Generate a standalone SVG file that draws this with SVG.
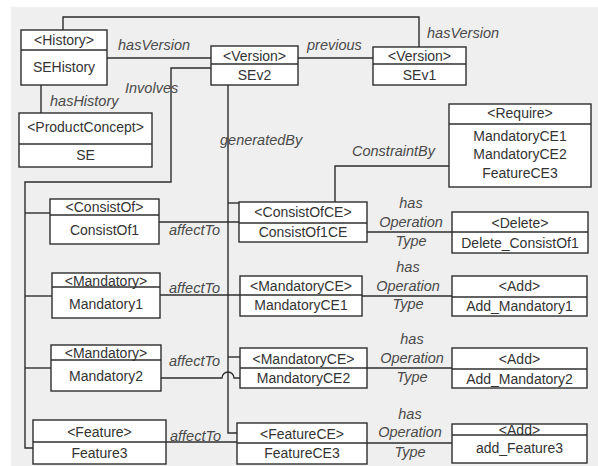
<svg xmlns="http://www.w3.org/2000/svg" width="598" height="466" viewBox="0 0 598 466">
  <style>
    .box { fill: #ffffff; stroke: #2e2e2e; stroke-width: 1.4; }
    .div { stroke: #2e2e2e; stroke-width: 1.4; }
    .t { font-family: "Liberation Sans", Arial, sans-serif; font-size: 14px; fill: #333333; text-anchor: middle; }
    .lbl { font-family: "Liberation Sans", Arial, sans-serif; font-size: 14.5px; font-style: italic; fill: #4a4a4a; }
    .mid { text-anchor: middle; }
    .edge { fill: none; stroke: #2e2e2e; stroke-width: 1.4; }
  </style>

  <!-- canvas -->
  <rect x="0" y="0" width="598" height="466" fill="#ffffff"/>
  <rect x="11" y="7" width="587" height="459" fill="#efefef"/>

  <!-- connectors -->
  <g id="connectors">
    <path class="edge" d="M63,30 V17 H419 V47"/>
    <path class="edge" d="M107,58 H211"/>
    <path class="edge" d="M298,58 H373"/>
    <path class="edge" d="M41,85 V113"/>
    <path class="edge" d="M211,68 H171 V182 H25 V448 H33"/>
    <path class="edge" d="M25,213 H50"/>
    <path class="edge" d="M25,296 H52"/>
    <path class="edge" d="M25,368 H51"/>
    <path class="edge" d="M228,85 V433 H237"/>
    <path class="edge" d="M228,203 H239"/>
    <path class="edge" d="M228,357 H240"/>
    <path class="edge" d="M449,166 H335 V202"/>
    <path class="edge" d="M159,222 H239"/>
    <path class="edge" d="M160,295 H240"/>
    <path class="edge" d="M161,378 H222 A6,6 0 0 1 234,378 H240"/>
    <path class="edge" d="M166,442 H237"/>
    <path class="edge" d="M367,232 H452"/>
    <path class="edge" d="M362,296 H452"/>
    <path class="edge" d="M367,368 H452"/>
    <path class="edge" d="M367,443 H452"/>

    <text class="lbl" x="427" y="38">hasVersion</text>
    <text class="lbl" x="118" y="50">hasVersion</text>
    <text class="lbl" x="307" y="50">previous</text>
    <text class="lbl" x="50" y="106">hasHistory</text>
    <text class="lbl" x="125" y="93">Involves</text>
    <text class="lbl" x="220" y="145">generatedBy</text>
    <text class="lbl" x="352" y="156">ConstraintBy</text>

    <text class="lbl" x="169" y="235">affectTo</text>
    <text class="lbl" x="169" y="293">affectTo</text>
    <text class="lbl" x="169" y="366">affectTo</text>
    <text class="lbl" x="170" y="441">affectTo</text>

    <text class="lbl mid" x="411" y="208">has</text>
    <text class="lbl mid" x="411" y="227">Operation</text>
    <text class="lbl mid" x="411" y="246">Type</text>
    <text class="lbl mid" x="408" y="272">has</text>
    <text class="lbl mid" x="408" y="291">Operation</text>
    <text class="lbl mid" x="408" y="309">Type</text>
    <text class="lbl mid" x="412" y="344">has</text>
    <text class="lbl mid" x="412" y="363">Operation</text>
    <text class="lbl mid" x="412" y="382">Type</text>
    <text class="lbl mid" x="410" y="419">has</text>
    <text class="lbl mid" x="410" y="437">Operation</text>
    <text class="lbl mid" x="410" y="457">Type</text>
  </g>

  <!-- nodes -->
  <g id="history">
    <rect class="box" x="21" y="30" width="86" height="55"/>
    <line class="div" x1="21" y1="50" x2="107" y2="50"/>
    <text class="t" x="64" y="45">&lt;History&gt;</text>
    <text class="t" x="64" y="72">SEHistory</text>
  </g>
  <g id="sev2">
    <rect class="box" x="211" y="46" width="87" height="39"/>
    <line class="div" x1="211" y1="64" x2="298" y2="64"/>
    <text class="t" x="254.5" y="61">&lt;Version&gt;</text>
    <text class="t" x="254.5" y="80">SEv2</text>
  </g>
  <g id="sev1">
    <rect class="box" x="373" y="47" width="93" height="38"/>
    <line class="div" x1="373" y1="64" x2="466" y2="64"/>
    <text class="t" x="419.5" y="61">&lt;Version&gt;</text>
    <text class="t" x="419.5" y="80">SEv1</text>
  </g>
  <g id="productconcept">
    <rect class="box" x="19" y="113" width="133" height="54"/>
    <line class="div" x1="19" y1="144" x2="152" y2="144"/>
    <text class="t" x="85.5" y="132">&lt;ProductConcept&gt;</text>
    <text class="t" x="85.5" y="160">SE</text>
  </g>
  <g id="require">
    <rect class="box" x="449" y="104" width="142" height="83"/>
    <line class="div" x1="449" y1="124" x2="591" y2="124"/>
    <text class="t" x="520" y="118">&lt;Require&gt;</text>
    <text class="t" x="520" y="141">MandatoryCE1</text>
    <text class="t" x="520" y="159">MandatoryCE2</text>
    <text class="t" x="520" y="178">FeatureCE3</text>
  </g>

  <g id="consistof1">
    <rect class="box" x="50" y="199" width="109" height="45"/>
    <line class="div" x1="50" y1="215" x2="159" y2="215"/>
    <text class="t" x="104.5" y="212">&lt;ConsistOf&gt;</text>
    <text class="t" x="104.5" y="235">ConsistOf1</text>
  </g>
  <g id="consistof1ce">
    <rect class="box" x="239" y="202" width="128" height="40"/>
    <line class="div" x1="239" y1="223" x2="367" y2="223"/>
    <text class="t" x="303" y="217">&lt;ConsistOfCE&gt;</text>
    <text class="t" x="303" y="237">ConsistOf1CE</text>
  </g>
  <g id="delete_consistof1">
    <rect class="box" x="452" y="212" width="136" height="41"/>
    <line class="div" x1="452" y1="232" x2="588" y2="232"/>
    <text class="t" x="520" y="228">&lt;Delete&gt;</text>
    <text class="t" x="520" y="248">Delete_ConsistOf1</text>
  </g>

  <g id="mandatory1">
    <rect class="box" x="52" y="273" width="108" height="45"/>
    <line class="div" x1="52" y1="287" x2="160" y2="287"/>
    <text class="t" x="106" y="286">&lt;Mandatory&gt;</text>
    <text class="t" x="106" y="309">Mandatory1</text>
  </g>
  <g id="mandatoryce1">
    <rect class="box" x="240" y="276" width="122" height="40"/>
    <line class="div" x1="240" y1="295" x2="362" y2="295"/>
    <text class="t" x="301" y="291">&lt;MandatoryCE&gt;</text>
    <text class="t" x="301" y="310">MandatoryCE1</text>
  </g>
  <g id="add_mandatory1">
    <rect class="box" x="452" y="276" width="135" height="40"/>
    <line class="div" x1="452" y1="297" x2="587" y2="297"/>
    <text class="t" x="519.5" y="291">&lt;Add&gt;</text>
    <text class="t" x="519.5" y="311">Add_Mandatory1</text>
  </g>

  <g id="mandatory2">
    <rect class="box" x="51" y="345" width="110" height="46"/>
    <line class="div" x1="51" y1="360" x2="161" y2="360"/>
    <text class="t" x="106" y="358">&lt;Mandatory&gt;</text>
    <text class="t" x="106" y="381">Mandatory2</text>
  </g>
  <g id="mandatoryce2">
    <rect class="box" x="240" y="348" width="127" height="40"/>
    <line class="div" x1="240" y1="368" x2="367" y2="368"/>
    <text class="t" x="303.5" y="364">&lt;MandatoryCE&gt;</text>
    <text class="t" x="303.5" y="383">MandatoryCE2</text>
  </g>
  <g id="add_mandatory2">
    <rect class="box" x="452" y="348" width="135" height="40"/>
    <line class="div" x1="452" y1="369" x2="587" y2="369"/>
    <text class="t" x="519.5" y="364">&lt;Add&gt;</text>
    <text class="t" x="519.5" y="384">Add_Mandatory2</text>
  </g>

  <g id="feature3">
    <rect class="box" x="33" y="420" width="133" height="44"/>
    <line class="div" x1="33" y1="442" x2="166" y2="442"/>
    <text class="t" x="99.5" y="437">&lt;Feature&gt;</text>
    <text class="t" x="99.5" y="458">Feature3</text>
  </g>
  <g id="featurece3">
    <rect class="box" x="237" y="423" width="130" height="41"/>
    <line class="div" x1="237" y1="443" x2="367" y2="443"/>
    <text class="t" x="302" y="439">&lt;FeatureCE&gt;</text>
    <text class="t" x="302" y="458">FeatureCE3</text>
  </g>
  <g id="add_feature3">
    <rect class="box" x="452" y="424" width="135" height="39"/>
    <line class="div" x1="452" y1="435" x2="587" y2="435"/>
    <text class="t" x="519.5" y="435">&lt;Add&gt;</text>
    <text class="t" x="519.5" y="453">add_Feature3</text>
  </g>
</svg>
